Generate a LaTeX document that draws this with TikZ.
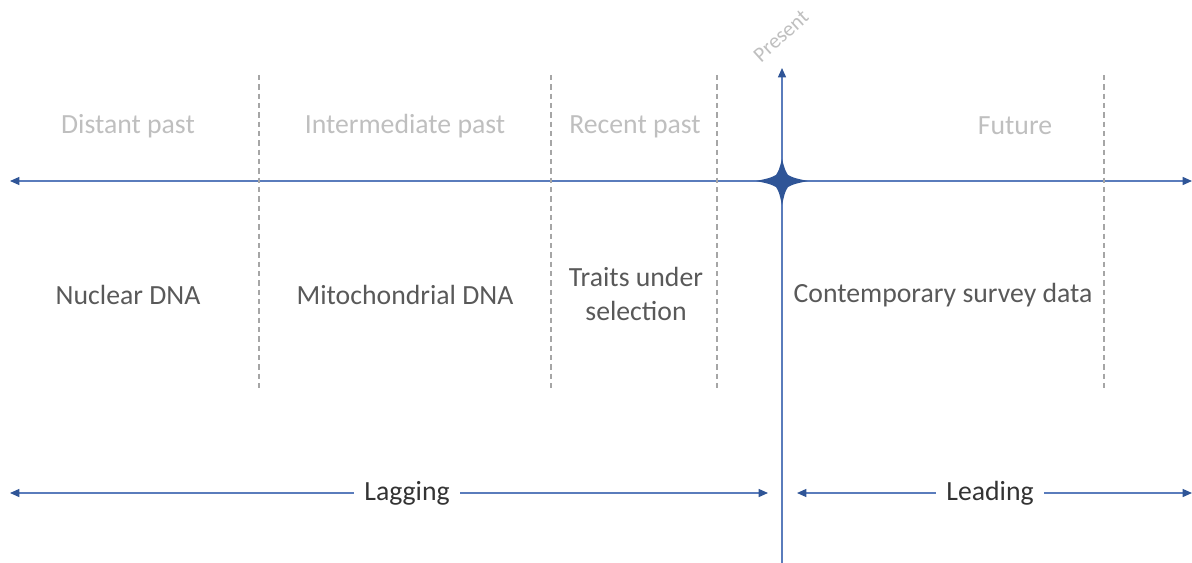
\documentclass[tikz,border=0pt]{standalone}
\usepackage{fontspec}
\setmainfont{Carlito}
\usetikzlibrary{arrows.meta}
\definecolor{axisblue}{HTML}{5A7CBC}
\definecolor{headblue}{HTML}{2F5597}
\definecolor{lightgrey}{HTML}{BFBFBF}
\definecolor{midgrey}{HTML}{595959}
\definecolor{darkgrey}{HTML}{333333}
\definecolor{dashgrey}{HTML}{A6A6A6}
\tikzset{
  axis/.style={draw=axisblue, line width=1pt, -{Triangle[length=7pt,width=6pt,fill=headblue,color=headblue]}},
  twoway/.style={draw=axisblue, line width=1pt, {Triangle[length=7pt,width=6pt,fill=headblue,color=headblue]}-{Triangle[length=7pt,width=6pt,fill=headblue,color=headblue]}},
  divider/.style={draw=dashgrey, line width=0.9pt, dash pattern=on 4pt off 3pt},
  period/.style={text=lightgrey, font=\fontsize{20.8}{25}\selectfont},
  source/.style={text=midgrey, font=\fontsize{20.8}{25.5}\selectfont, align=center},
  span/.style={text=darkgrey, font=\fontsize{20.8}{25}\selectfont, fill=white, inner xsep=8pt},
}
\begin{document}
\begin{tikzpicture}[x=0.75pt,y=-0.75pt]
\useasboundingbox (0,0) rectangle (1192,563);
% coordinates
\coordinate (hl) at (10,181);
\coordinate (hr) at (1192,181);
\coordinate (vt) at (782,68);
\coordinate (vb) at (782,563);
\coordinate (c) at (782,181);
% main axes
\draw[axis] (c) -- (hl);
\draw[axis] (c) -- (hr);
\draw[axis] (vb) -- (vt);
% star
\fill[headblue] (756,181) .. controls (770,178) .. (776,175) .. controls (779,170) .. (782,159)
  .. controls (785,170) .. (788,175) .. controls (794,178) .. (808,181)
  .. controls (794,184) .. (788,187) .. controls (785,192) .. (782,205)
  .. controls (779,192) .. (776,187) .. controls (770,184) .. (756,181) -- cycle;
% dividers
\foreach \x/\n in {259/d1,551/d2,717/d3,1104/d4}{
  \coordinate (\n t) at (\x,75);
  \coordinate (\n b) at (\x,390);
  \draw[divider] (\n t) -- (\n b);
}
% labels
\node[text=lightgrey, rotate=42, font=\fontsize{16}{18}\selectfont, inner sep=1pt] (present) at (781,36) {Present};
\node[period] (distant) at (128,126) {Distant past};
\node[period] (inter) at (405,126) {Intermediate past};
\node[period] (recent) at (635,127) {Recent past};
\node[period] (future) at (1015,126) {Future};
\node[source] (nuclear) at (128,295) {Nuclear DNA};
\node[source] (mito) at (405,295) {Mitochondrial DNA};
\node[source] (traits) at (636,294) {Traits under\\selection};
\node[source] (survey) at (943,295) {Contemporary survey data};
% bottom spans
\coordinate (lagL) at (10,493);
\coordinate (lagR) at (768,493);
\coordinate (leadL) at (797,493);
\coordinate (leadR) at (1192,493);
\draw[twoway] (lagL) -- (lagR);
\draw[twoway] (leadL) -- (leadR);
\node[span] (lagging) at (407,493) {Lagging};
\node[span] (leading) at (990,493) {Leading};
\end{tikzpicture}
\end{document}
